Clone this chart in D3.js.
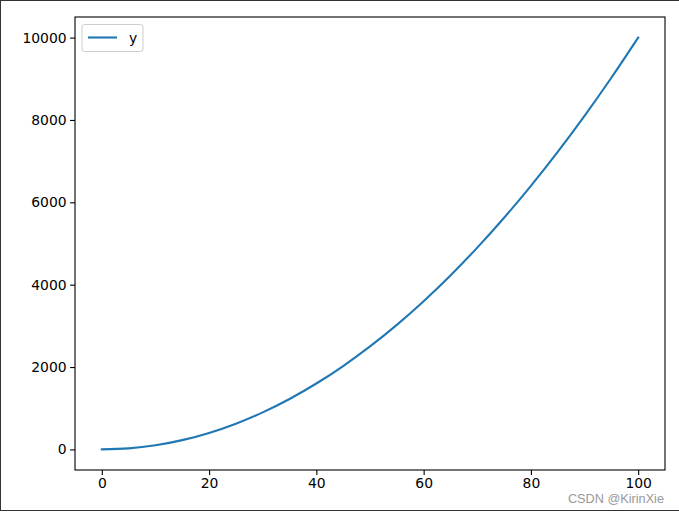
<!DOCTYPE html>
<html><head><meta charset="utf-8">
<script src="https://cdn.jsdelivr.net/npm/d3@7/dist/d3.min.js"></script>
<style>body{margin:0;background:#fff}svg{display:block}</style>
</head><body>
<svg id="c" width="679" height="513"></svg>
<script>
const xValues = [0,5,10,15,20,25,30,35,40,45,50,55,60,65,70,75,80,85,90,95,100];
const yValues = [0,25,100,225,400,625,900,1225,1600,2025,2500,3025,3600,4225,4900,5625,6400,7225,8100,9025,10000];
const xTicks = [0,20,40,60,80,100];
const yTicks = [0,2000,4000,6000,8000,10000];
const seriesName = "y";
const watermark = "CSDN @KirinXie";

const svg = d3.select("#c");
const L=75, R=665, T=17, B=470;
const x = d3.scaleLinear().domain([-5,105]).range([L,R]);
const y = d3.scaleLinear().domain([-500,10500]).range([B,T]);
const font = "DejaVu Sans, sans-serif";

// outer frame
svg.append("line").attr("x1",0.5).attr("x2",0.5).attr("y1",0).attr("y2",511).attr("stroke","#333").attr("stroke-width",1);
svg.append("line").attr("x1",0).attr("x2",679).attr("y1",0.5).attr("y2",0.5).attr("stroke","#333").attr("stroke-width",1);
svg.append("line").attr("x1",0).attr("x2",679).attr("y1",510.5).attr("y2",510.5).attr("stroke","#333").attr("stroke-width",1);

const data = xValues.map((v,i)=>[v,yValues[i]]);
svg.append("path").datum(data)
  .attr("fill","none").attr("stroke","#1f77b4").attr("stroke-width",2.1)
  .attr("stroke-linecap","square")
  .attr("d", d3.line().x(d=>x(d[0])).y(d=>y(d[1])).curve(d3.curveMonotoneX));

const xa = svg.append("g").attr("transform",`translate(0,${B})`)
  .call(d3.axisBottom(x).tickValues(xTicks).tickSize(4.9).tickPadding(3.5).tickFormat(d3.format("d")));
const ya = svg.append("g").attr("transform",`translate(${L},0)`)
  .call(d3.axisLeft(y).tickValues(yTicks).tickSize(4.9).tickPadding(3.5).tickFormat(d3.format("d")));
[xa,ya].forEach(a=>{
  a.select(".domain").remove();
  a.selectAll("line").attr("stroke","#000").attr("stroke-width",1.1);
  a.selectAll("text").attr("font-family",font).attr("font-size","13.9px").attr("fill","#000");
});

svg.append("rect").attr("x",L).attr("y",T).attr("width",R-L).attr("height",B-T)
  .attr("fill","none").attr("stroke","#000").attr("stroke-width",1.1);

// legend
const lg = svg.append("g");
lg.append("rect").attr("x",82).attr("y",24.5).attr("width",61).attr("height",27).attr("rx",2.5)
  .attr("fill","#fff").attr("fill-opacity",0.8).attr("stroke","#ccc").attr("stroke-width",1);
lg.append("line").attr("x1",88).attr("x2",117).attr("y1",37.5).attr("y2",37.5)
  .attr("stroke","#1f77b4").attr("stroke-width",2.1);
lg.append("text").attr("x",129).attr("y",42.5).attr("font-family",font).attr("font-size","13.9px").text(seriesName);

svg.append("text").attr("x",664).attr("y",503).attr("text-anchor","end")
  .attr("font-family","Liberation Sans, Arial, sans-serif").attr("font-size","12.7px")
  .attr("fill","#999").text(watermark);
</script>
</body></html>
